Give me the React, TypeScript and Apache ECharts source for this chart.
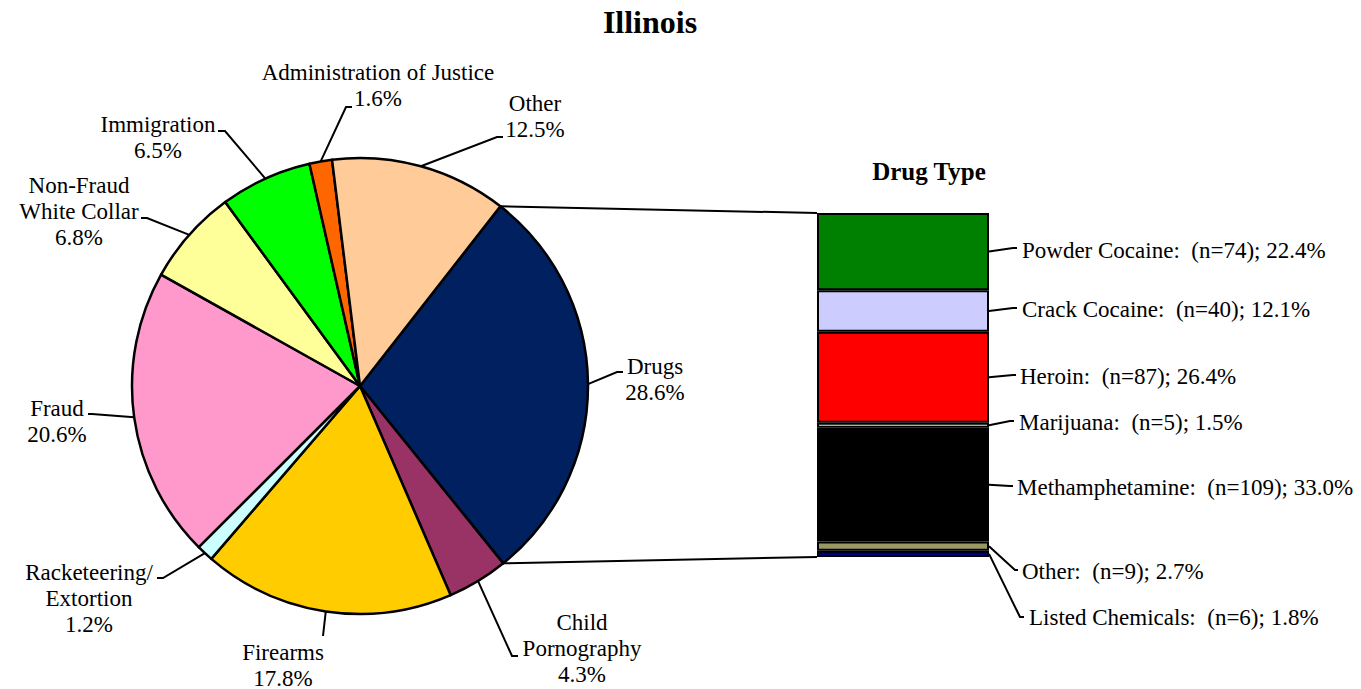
import React, { useEffect, useRef } from 'react';
import * as echarts from 'echarts';

// ---------- data ----------
const offenseNames = [
  'Drugs',
  'Child\nPornography',
  'Firearms',
  'Racketeering/\nExtortion',
  'Fraud',
  'Non-Fraud\nWhite Collar',
  'Immigration',
  'Administration of Justice',
  'Other',
];
const offensePercents = [28.6, 4.3, 17.8, 1.2, 20.6, 6.8, 6.5, 1.6, 12.5];
const offenseColors = ['#002060', '#993366', '#FFCC00', '#CCFFFF', '#FF99CC', '#FFFF99', '#00FF00', '#FF6600', '#FFCC99'];

const drugNames = ['Powder Cocaine', 'Crack Cocaine', 'Heroin', 'Marijuana', 'Methamphetamine', 'Other', 'Listed Chemicals'];
const drugCounts = [74, 40, 87, 5, 109, 9, 6];
const drugPercents = [22.4, 12.1, 26.4, 1.5, 33.0, 2.7, 1.8];
const drugColors = ['#008000', '#CCCCFF', '#FF0000', '#CCFFCC', '#000000', '#999966', '#000080'];

// ---------- layout ----------
const FONT = 'Liberation Serif';
const PIE_CX = 360;
const PIE_CY = 386;
const PIE_R = 228;
const DRUGS_START = 38; // degrees clockwise from 12 o'clock
const BAR_LEFT = 817;
const BAR_TOP = 213;
const BAR_W = 172;
const BAR_H = 344;

// pie label centres, bend and end points of leader lines
const pieLabelPos = [[655, 379], [582, 648], [283, 665], [89, 598], [57, 421], [79, 211], [158, 137], [378, 85], [535, 116]];
const pieLabelBend = [[617, 372], [512, 656], [323, 636], [163, 578], [92, 414], [147, 218], [225, 131], [346, 107], [497, 137]];
const pieLabelEnd = [[623, 372], [518, 656], [323, 636], [157, 578], [88, 414], [141, 218], [218, 131], [352, 107], [503, 137]];

// bar label left/middle anchors and leader points
const drugLabelPos = [[1022, 250], [1022, 309], [1020, 376], [1019, 422], [1017, 487], [1022, 571], [1029, 617]];
const drugLabelBend = [[1013, 248], [1013, 308], [1013, 375], [1010, 421], [1010, 486], [1015, 570], [1020, 617]];
const drugLabelEnd = [[1017, 248], [1017, 308], [1016, 375], [1014, 421], [1013, 486], [1018, 570], [1024, 617]];

const offenseTotal = offensePercents.reduce((a, b) => a + b, 0);
const drugTotal = drugPercents.reduce((a, b) => a + b, 0);

function piePoint(angleDeg: number): [number, number] {
  const a = (angleDeg * Math.PI) / 180;
  return [PIE_CX + PIE_R * Math.sin(a), PIE_CY - PIE_R * Math.cos(a)];
}

function sliceMidAngle(i: number): number {
  let cum = 0;
  for (let k = 0; k < i; k++) cum += offensePercents[k];
  return DRUGS_START + ((cum + offensePercents[i] / 2) / offenseTotal) * 360;
}

export default function App() {
  const ref = useRef<HTMLDivElement>(null);

  useEffect(() => {
    if (!ref.current) return;
    const chart = echarts.init(ref.current, undefined, { renderer: 'svg' });

    const drugsEndAngle = DRUGS_START + (offensePercents[0] / offenseTotal) * 360;
    const pTop = piePoint(DRUGS_START);
    const pBot = piePoint(drugsEndAngle);

    const cumStarts: number[] = [];
    let acc = 0;
    drugPercents.forEach((v) => {
      cumStarts.push(acc);
      acc += v;
    });

    const labelTextStyle = {
      fontFamily: FONT,
      fontSize: 23,
      lineHeight: 26,
      color: '#000',
      align: 'center',
    };

    const option: any = {
      animation: false,
      backgroundColor: '#ffffff',
      textStyle: { fontFamily: FONT },
      grid: { left: BAR_LEFT, top: BAR_TOP, width: BAR_W, height: BAR_H },
      xAxis: {
        type: 'category',
        data: ['Drugs'],
        show: false,
      },
      yAxis: {
        type: 'value',
        min: 0,
        max: drugTotal,
        inverse: true,
        show: false,
      },
      graphic: [
        {
          type: 'text',
          x: 650,
          y: 22,
          style: { text: 'Illinois', fill: '#000', font: `bold 32px ${FONT}`, align: 'center', verticalAlign: 'middle' },
        },
        {
          type: 'text',
          x: 929,
          y: 171,
          style: { text: 'Drug Type', fill: '#000', font: `bold 25px ${FONT}`, align: 'center', verticalAlign: 'middle' },
        },
        {
          type: 'line',
          shape: { x1: pTop[0], y1: pTop[1], x2: BAR_LEFT, y2: BAR_TOP },
          style: { stroke: '#000', lineWidth: 2 },
        },
        {
          type: 'line',
          shape: { x1: pBot[0], y1: pBot[1], x2: BAR_LEFT, y2: BAR_TOP + BAR_H },
          style: { stroke: '#000', lineWidth: 2 },
        },
      ],
      series: [
        {
          type: 'pie',
          center: [PIE_CX, PIE_CY],
          radius: PIE_R,
          startAngle: 90 - DRUGS_START,
          clockwise: true,
          avoidLabelOverlap: false,
          silent: true,
          data: offenseNames.map((n, i) => ({
            name: n,
            value: offensePercents[i],
            itemStyle: { color: offenseColors[i] },
          })),
          itemStyle: { borderColor: '#000', borderWidth: 2.5 },
          label: {
            show: true,
            position: 'outside',
            formatter: (p: any) =>
              `${p.name}\n${Number(p.value).toFixed(1)}%`
                .split('\n')
                .map((s: string) => `{t|${s}}`)
                .join('\n'),
            ...labelTextStyle,
            rich: { t: { ...labelTextStyle } },
          },
          labelLine: { show: true, length: 10, length2: 10, lineStyle: { color: '#000', width: 2 } },
          labelLayout: (params: any) => {
            const i = params.dataIndex;
            const start = piePoint(sliceMidAngle(i));
            return {
              x: pieLabelPos[i][0],
              y: pieLabelPos[i][1],
              align: 'center',
              verticalAlign: 'middle',
              labelLinePoints: [start, pieLabelBend[i], pieLabelEnd[i]],
            };
          },
        },
        ...drugNames.map((n, i) => ({
          type: 'bar',
          name: n,
          stack: 'drugs',
          barWidth: '100%',
          silent: true,
          data: [drugPercents[i]],
          itemStyle: { color: drugColors[i], borderColor: '#000', borderWidth: 2 },
        })),
        {
          type: 'custom',
          silent: true,
          clip: false,
          data: drugPercents.map((v, i) => [0, cumStarts[i], cumStarts[i] + v]),
          encode: { x: 0, y: [1, 2] },
          renderItem: (params: any, api: any) => {
            const i = params.dataIndex;
            const a = api.coord([0, api.value(1)]);
            const b = api.coord([0, api.value(2)]);
            const w = api.size([1, 0])[0];
            const x0 = a[0] + w / 2;
            const y0 = (a[1] + b[1]) / 2;
            return {
              type: 'group',
              children: [
                {
                  type: 'polyline',
                  shape: { points: [[x0, y0], drugLabelBend[i], drugLabelEnd[i]] },
                  style: { stroke: '#000', lineWidth: 2, fill: null },
                },
                {
                  type: 'text',
                  x: drugLabelPos[i][0],
                  y: drugLabelPos[i][1],
                  style: {
                    text: `${drugNames[i]}:\u00a0 (n=${drugCounts[i]}); ${drugPercents[i].toFixed(1)}%`,
                    fill: '#000',
                    fontFamily: FONT,
                    fontSize: 23,
                    align: 'left',
                    verticalAlign: 'middle',
                  },
                },
              ],
            };
          },
        },
      ],
    };

    chart.setOption(option);
    return () => {
      chart.dispose();
    };
  }, []);

  return (
    <div
      ref={ref}
      style={{ position: 'fixed', left: 0, top: 0, width: 1361, height: 689, background: '#fff' }}
    />
  );
}
